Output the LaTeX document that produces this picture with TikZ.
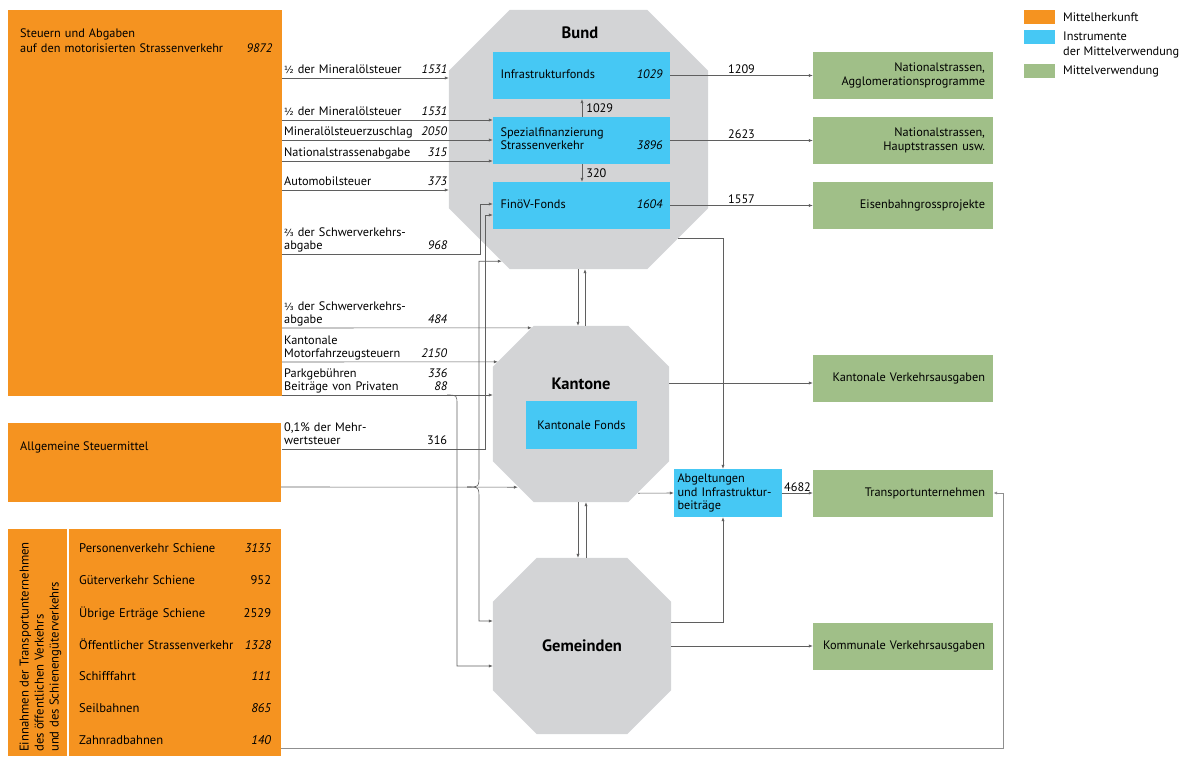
\documentclass[tikz,border=0pt]{standalone}
\usepackage{fontspec}
\setmainfont{PT Sans}
\newfontfamily\bruchfont[Scale=0.8]{DejaVu Sans}
\usepackage{tikz}
\usetikzlibrary{arrows.meta,positioning,calc}

\definecolor{herkunft}{RGB}{245,147,32}
\definecolor{instrument}{RGB}{70,200,244}
\definecolor{verwendung}{RGB}{160,191,136}
\definecolor{ebene}{RGB}{211,212,214}
\definecolor{fluss}{RGB}{95,95,95}

\newcommand\zahl[1]{\hskip 0pt plus 1filll#1\strut}
\newcommand\bruch[1]{{\bruchfont #1}}
\newcommand\achteck[2]{\fill[ebene] ([xshift=#2]#1.north west) -- ([xshift=-#2]#1.north east) -- ([yshift=-#2]#1.north east) -- ([yshift=#2]#1.south east) -- ([xshift=-#2]#1.south east) -- ([xshift=#2]#1.south west) -- ([yshift=#2]#1.south west) -- ([yshift=-#2]#1.north west) -- cycle;}

\begin{document}
\begin{tikzpicture}[x=1pt,y=-1pt,>={Latex[length=4pt,width=3.2pt]},
  font=\fontsize{12.3}{13.5}\selectfont,
  quelle/.style={fill=herkunft,inner sep=0pt},
  instr/.style={fill=instrument,minimum width=177pt,minimum height=47pt,text width=162pt,inner xsep=7.5pt,align=left},
  verw/.style={fill=verwendung,minimum width=180pt,minimum height=47pt,text width=164pt,inner xsep=8pt,align=right},
  ebenebox/.style={inner sep=0pt},
  lab/.style={anchor=south west,text width=163pt,inner xsep=2pt,inner ysep=0pt,align=left},
  zeile/.style={anchor=west,text width=192pt,inner sep=0pt,align=left,font=\fontsize{12.6}{14}\selectfont},
  titel/.style={font=\fontsize{16.5}{18}\selectfont\bfseries},
  fl/.style={draw=fluss,line width=0.6pt,->},
  legfeld/.style={minimum width=31pt,minimum height=14pt,inner sep=0pt}]
\useasboundingbox (0,0) rectangle (1192,756);

% Mittelherkunft
\node[quelle,minimum width=274pt,minimum height=386pt] (steuern) at (145,203) {};
\node[anchor=north west,text width=252pt,inner sep=0pt,align=left,font=\fontsize{12.3}{15}\selectfont] (steuern_txt) at (20,29) {Steuern und Abgaben\\auf den motorisierten Strassenverkehr\zahl{\textit{9872}}};
\node[quelle,minimum width=273pt,minimum height=79pt] (allg) at (144.5,462.5) {};
\node[anchor=west,inner sep=0pt] (allg_txt) at (20,447) {Allgemeine Steuermittel};
\node[quelle,minimum width=59pt,minimum height=227pt] (einn_t) at (37.5,642.5) {};
\node[rotate=90,anchor=north west,inner sep=0pt,align=left,font=\fontsize{12.7}{15}\selectfont] (einn_t_txt) at (19.5,752) {Einnahmen der Transportunternehmen\\des öffentlichen Verkehrs\\und des Schienengüterverkehrs};
\node[quelle,minimum width=212pt,minimum height=227pt] (einn) at (175,642.5) {};
\node[zeile] (r_pv) at (79,550) {Personenverkehr Schiene\zahl{\textit{3135}}};
\node[zeile] (r_gv) at (79,582) {Güterverkehr Schiene\zahl{952}};
\node[zeile] (r_ue) at (79,614) {Übrige Erträge Schiene\zahl{2529}};
\node[zeile] (r_oev) at (79,646) {Öffentlicher Strassenverkehr\zahl{\textit{1328}}};
\node[zeile] (r_sf) at (79,678) {Schifffahrt\zahl{\textit{111}}};
\node[zeile] (r_sb) at (79,710) {Seilbahnen\zahl{\textit{865}}};
\node[zeile] (r_zr) at (79,742) {Zahnradbahnen\zahl{\textit{140}}};

% Legende
\node[legfeld,fill=herkunft] (leg_h) at (1039.5,17) {};
\node[anchor=west,inner sep=0pt] (leg_h_txt) at (1063,17) {Mittelherkunft};
\node[legfeld,fill=instrument] (leg_i) at (1039.5,37) {};
\node[anchor=north west,inner sep=0pt,align=left,font=\fontsize{12.3}{15}\selectfont] (leg_i_txt) at (1063,32) {Instrumente\\der Mittelverwendung};
\node[legfeld,fill=verwendung] (leg_v) at (1039.5,71) {};
\node[anchor=west,inner sep=0pt] (leg_v_txt) at (1063,71) {Mittelverwendung};

% Bund
\node[ebenebox,minimum width=259pt,minimum height=259pt] (bund) at (578.5,139.5) {};
\achteck{bund}{61pt}
\node[titel] (bund_txt) at (580,33) {Bund};
\node[instr] (infra) at (581.5,75.5) {Infrastrukturfonds\zahl{\textit{1029}}};
\node[instr] (spez) at (581.5,140.5) {Spezialfinanzierung\\Strassenverkehr\zahl{\textit{3896}}};
\node[instr] (fin) at (581.5,205.5) {FinöV-Fonds\zahl{\textit{1604}}};

% Kantone
\node[ebenebox,minimum width=176pt,minimum height=176pt] (kantone) at (581,414) {};
\achteck{kantone}{41pt}
\node[titel] (kantone_txt) at (581,384) {Kantone};
\node[fill=instrument,minimum width=111pt,minimum height=48pt] (kfonds) at (581.5,425) {Kantonale Fonds};

% Gemeinden
\node[ebenebox,minimum width=178pt,minimum height=176pt] (gemeinden) at (582,646) {};
\achteck{gemeinden}{44pt}
\node[titel] (gemeinden_txt) at (582,646) {Gemeinden};

\node[fill=instrument,minimum width=108pt,minimum height=48pt,text width=101pt,inner xsep=3.5pt,align=left] (abg) at (728,493) {Abgeltungen\\und Infrastruktur-\\beiträge};

% Mittelverwendung
\node[verw] (nat_agg) at (903,75.5) {Nationalstrassen,\\Agglomerationsprogramme};
\node[verw] (nat_haupt) at (903,140.5) {Nationalstrassen,\\Hauptstrassen usw.};
\node[verw] (bahn) at (903,205.5) {Eisenbahngrossprojekte};
\node[verw] (kant_ausg) at (903,378.5) {Kantonale Verkehrsausgaben};
\node[verw] (transport) at (903,493) {Transportunternehmen};
\node[verw] (kommunal) at (903,646) {Kommunale Verkehrsausgaben};

% Abgaben
\node[lab] (l_mst1) at (282,78) {\bruch{½} der Mineralölsteuer\zahl{\textit{1531}}};
\node[lab] (l_mst2) at (282,120) {\bruch{½} der Mineralölsteuer\zahl{\textit{1531}}};
\node[lab] (l_zuschlag) at (282,140) {Mineralölsteuerzuschlag\zahl{\textit{2050}}};
\node[lab] (l_nsa) at (282,161) {Nationalstrassenabgabe\zahl{\textit{315}}};
\node[lab] (l_auto) at (282,190) {Automobilsteuer\zahl{\textit{373}}};
\node[lab] (l_svag23) at (282,254) {\bruch{⅔} der Schwerverkehrs-\\abgabe\zahl{\textit{968}}};
\node[lab] (l_svag13) at (282,328) {\bruch{⅓} der Schwerverkehrs-\\abgabe\zahl{\textit{484}}};
\node[lab] (l_mfz) at (282,362) {Kantonale\\Motorfahrzeugsteuern\zahl{\textit{2150}}};
\node[lab] (l_park) at (282,395) {Parkgebühren\zahl{\textit{336}}\\Beiträge von Privaten\zahl{\textit{88}}};
\node[lab] (l_mwst) at (282,449) {0,1\% der Mehr-\\wertsteuer\zahl{316}};
\coordinate (verzw) at (467,487);
\coordinate (zr_ab) at (281,748);

% Fluesse zum Bund
\draw[fl] (l_mst1.south west) -- (l_mst1.south west -| bund.west);
\draw[fl] (l_mst2.south west) -- (l_mst2.south west -| spez.west);
\draw[fl] (l_zuschlag.south west) -- (l_zuschlag.south west -| spez.west);
\draw[fl] (l_nsa.south west) -- (l_nsa.south west -| spez.west);
\draw[fl] (l_auto.south west) -- (l_auto.south west -| bund.west);
\draw[fl] (l_svag23.south west) -| ([xshift=-13pt,yshift=1.5pt]fin.west) -- ([yshift=1.5pt]fin.west);
\draw[fl] (l_mwst.south west) -| ([xshift=-8pt,yshift=-9.5pt]fin.west) -- ([yshift=-9.5pt]fin.west);

% Fluesse zu Kantonen und Gemeinden
\draw[fl] (l_svag13.south west) -- ([xshift=39pt,yshift=-2pt]kantone.north west);
\draw[fl] (l_mfz.south west) -- ([xshift=5pt,yshift=-36pt]kantone.north west);
\draw[fl] (l_park.south west) -- (l_park.south west -| kantone.west);
\draw[fl] ([xshift=165pt]l_park.south west) .. controls +(10,0) and +(0,-10) .. +(10,10) |- ([yshift=-20pt]gemeinden.west);
\draw[fl] (allg.east |- verzw) -- ([xshift=25pt,yshift=15pt]kantone.south west);
\draw[fl] (verzw) .. controls +(12,0) and +(0,12) .. +(12,-12) |- ([xshift=53pt,yshift=8pt]bund.south west);
\draw[fl] (verzw) .. controls +(12,0) and +(0,-12) .. +(12,12) |- ([yshift=25pt]gemeinden.west);

% zwischen den Ebenen
\draw[fl] ([xshift=-0.5pt]bund.south) -- ([xshift=-3pt]kantone.north);
\draw[fl] ([xshift=4pt]kantone.north) -- ([xshift=6.5pt]bund.south);
\draw[fl] ([xshift=-3pt]kantone.south) -- ([xshift=-4pt]gemeinden.north);
\draw[fl] ([xshift=4pt]gemeinden.north) -- ([xshift=5pt]kantone.south);
\draw[fl] ([xshift=0.5pt]spez.north) -- ([xshift=0.5pt]infra.south) node[midway,right,inner sep=4pt] (f_1029) {1029};
\draw[fl] ([xshift=0.5pt]spez.south) -- ([xshift=0.5pt]fin.north) node[midway,right,inner sep=4pt] (f_320) {320};

% Verwendung
\draw[fl] (infra.east) -- (nat_agg.west) node[midway,above,inner sep=2pt] (f_1209) {1209};
\draw[fl] (spez.east) -- (nat_haupt.west) node[midway,above,inner sep=2pt] (f_2623) {2623};
\draw[fl] (fin.east) -- (bahn.west) node[midway,above,inner sep=2pt] (f_1557) {1557};
\draw[fl] ([xshift=-30pt,yshift=31pt]bund.south east) -| ([xshift=-5pt]abg.north);
\draw[fl] ([xshift=-31pt,yshift=9pt]kantone.south east) -- (abg.west);
\draw[fl] ([yshift=24pt]gemeinden.east) -| ([xshift=-5pt]abg.south);
\coordinate (k_aus) at ([yshift=-4.5pt]kant_ausg.west);
\draw[fl] (k_aus -| kantone.east) -- (k_aus);
\draw[fl] (gemeinden.east) -- (kommunal.west);
\draw[fl] (abg.east) -- (transport.west) node[midway,above,inner sep=1pt] (f_4682) {4682};
\draw[fl,draw=fluss!70,line width=0.9pt] (zr_ab) -| ([xshift=10pt]transport.east) -- (transport.east);
\end{tikzpicture}
\end{document}
